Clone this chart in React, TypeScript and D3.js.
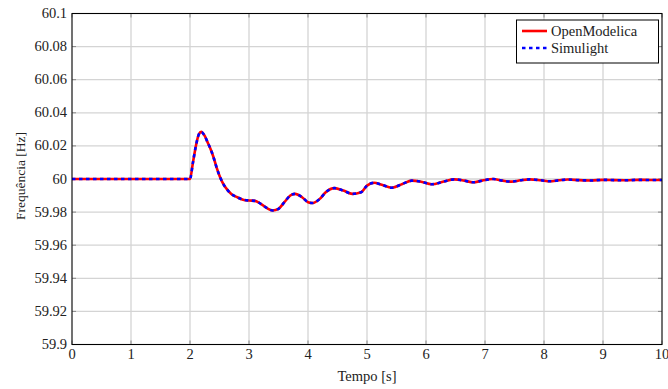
import React from "react";
import * as d3 from "d3";

const timeS = [0, 1, 2.0, 2.05, 2.1, 2.15, 2.19, 2.25, 2.3, 2.35, 2.4, 2.45, 2.5, 2.55, 2.6, 2.7, 2.8, 2.9, 3.0, 3.1, 3.2, 3.3, 3.4, 3.5, 3.6, 3.7, 3.78, 3.9, 4.0, 4.08, 4.2, 4.3, 4.45, 4.6, 4.75, 4.9, 5.0, 5.12, 5.25, 5.42, 5.6, 5.76, 5.9, 6.1, 6.3, 6.48, 6.65, 6.8, 6.95, 7.14, 7.3, 7.45, 7.6, 7.76, 7.95, 8.1, 8.25, 8.4, 8.6, 8.8, 9.0, 9.2, 9.4, 9.6, 9.8, 10];
const freqOpenModelica = [60, 60, 60, 60.01, 60.02, 60.027, 60.0285, 60.026, 60.022, 60.018, 60.013, 60.007, 60.002, 59.998, 59.995, 59.991, 59.989, 59.9875, 59.987, 59.9868, 59.985, 59.9825, 59.981, 59.982, 59.986, 59.99, 59.991, 59.989, 59.986, 59.9855, 59.988, 59.992, 59.9945, 59.993, 59.991, 59.992, 59.996, 59.9977, 59.9965, 59.9947, 59.997, 59.999, 59.9985, 59.9968, 59.9985, 59.9998, 59.999, 59.998, 59.999, 60.0, 59.999, 59.9984, 59.9992, 59.9998, 59.9992, 59.9986, 59.9992, 59.9997, 59.9993, 59.9991, 59.9995, 59.9993, 59.9992, 59.9995, 59.9994, 59.9994];
const freqSimulight = freqOpenModelica.slice();
const xTicks = [0, 1, 2, 3, 4, 5, 6, 7, 8, 9, 10];
const yTicks = [59.9, 59.92, 59.94, 59.96, 59.98, 60, 60.02, 60.04, 60.06, 60.08, 60.1];
const seriesNames = ["OpenModelica", "Simulight"];

const W = 668, H = 389;
const L = 72, R = 662, T = 13.5, B = 344.5;
const FS = { fontFamily: "'Liberation Serif', 'Times New Roman', 'DejaVu Serif', serif" };
const FSZ = 14.5;

export default function App() {
  const x = d3.scaleLinear().domain([0, 10]).range([L, R]);
  const y = d3.scaleLinear().domain([59.9, 60.1]).range([B, T]);
  const line = d3.line<number>().x((_, i) => x(timeS[i])).y((v) => y(v)).curve(d3.curveMonotoneX);
  const fmt = (v: number) => String(+v.toFixed(2));
  return (
    <svg width={W} height={H} style={{ position: "absolute", left: 0, top: 0, background: "#fff" }}>
      <rect x={0} y={0} width={W} height={H} fill="#fff" />
      {xTicks.map((t) => (
        <line key={"gx" + t} x1={x(t)} x2={x(t)} y1={T} y2={B} stroke="#d4d4d4" strokeWidth={1.3} />
      ))}
      {yTicks.map((t) => (
        <line key={"gy" + t} x1={L} x2={R} y1={y(t)} y2={y(t)} stroke="#d4d4d4" strokeWidth={1.3} />
      ))}
      {xTicks.map((t) => (
        <g key={"tx" + t}>
          <line x1={x(t)} x2={x(t)} y1={B} y2={B - 4} stroke="#888" strokeWidth={1} />
          <line x1={x(t)} x2={x(t)} y1={T} y2={T + 4} stroke="#888" strokeWidth={1} />
          <text x={x(t)} y={359} textAnchor="middle" fontSize={FSZ} fill="#222" style={FS}>{t}</text>
        </g>
      ))}
      {yTicks.map((t) => (
        <g key={"ty" + t}>
          <line x1={L} x2={L + 4} y1={y(t)} y2={y(t)} stroke="#888" strokeWidth={1} />
          <line x1={R} x2={R - 4} y1={y(t)} y2={y(t)} stroke="#888" strokeWidth={1} />
          <text x={67} y={y(t) + 4.5} textAnchor="end" fontSize={FSZ} fill="#222" style={FS}>{fmt(t)}</text>
        </g>
      ))}
      <path d={line(freqOpenModelica) || ""} fill="none" stroke="#ff0000" strokeWidth={2.6} />
      <path d={line(freqSimulight) || ""} fill="none" stroke="#0000ff" strokeWidth={2.6} strokeDasharray="3.5,3.5" />
      <rect x={L} y={T} width={R - L} height={B - T} fill="none" stroke="#000" strokeWidth={1} />
      <g>
        <rect x={516.5} y={20} width={142} height={43} fill="#fff" stroke="#000" strokeWidth={1} />
        <line x1={522} x2={547} y1={31} y2={31} stroke="#ff0000" strokeWidth={2.6} />
        <line x1={522} x2={547} y1={48} y2={48} stroke="#0000ff" strokeWidth={2.6} strokeDasharray="3.5,3.5" />
        <text x={551} y={35.5} fontSize={FSZ} fill="#222" style={FS}>{seriesNames[0]}</text>
        <text x={551} y={52.5} fontSize={FSZ} fill="#222" style={FS}>{seriesNames[1]}</text>
      </g>
      <text x={367} y={381} textAnchor="middle" fontSize={FSZ} fill="#222" style={FS}>Tempo [s]</text>
      <text transform={`translate(25, 176) rotate(-90)`} textAnchor="middle" fontSize={13.5} fill="#222" style={FS}>Frequência [Hz]</text>
    </svg>
  );
}
